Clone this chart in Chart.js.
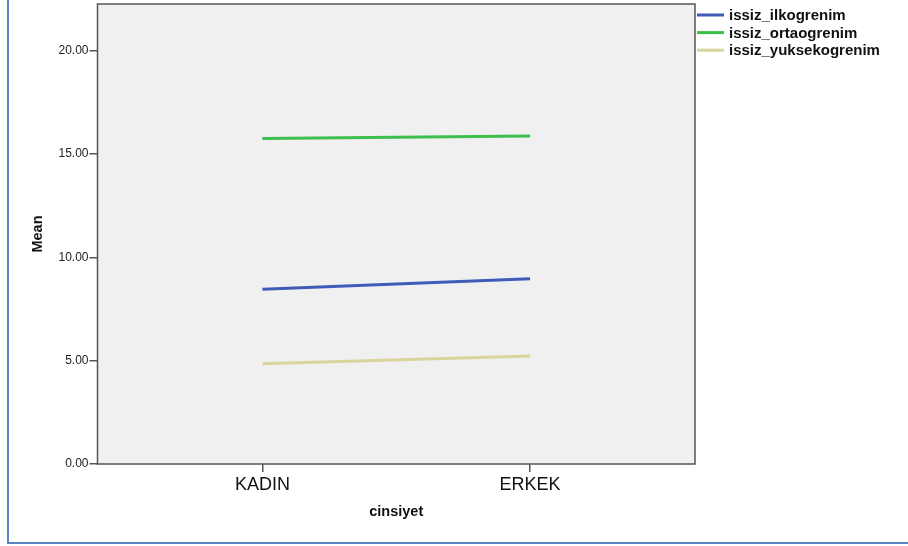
<!DOCTYPE html>
<html>
<head>
<meta charset="utf-8">
<script src="https://cdn.jsdelivr.net/npm/chart.js@4"></script>
<style>
html,body{margin:0;padding:0;background:#fff;}
#wrap{position:relative;width:908px;height:546px;}
canvas{display:block;}
</style>
</head>
<body>
<div id="wrap"><canvas id="c" width="908" height="546"></canvas></div>
<script>
const categories = ["KADIN", "ERKEK"];
const seriesNames = ["issiz_ilkogrenim", "issiz_ortaogrenim", "issiz_yuksekogrenim"];
const ilkogrenim = [8.45, 8.96];
const ortaogrenim = [15.74, 15.87];
const yuksekogrenim = [4.85, 5.22];
const yTicks = [0, 5, 10, 15, 20];
const seriesColors = ["#3f5bb8", "#3cbf4c", "#d8d49c"];

const seriesValues = [ilkogrenim, ortaogrenim, yuksekogrenim];
const datasets = seriesNames.map((name, i) => ({
  label: name,
  data: seriesValues[i].map((v, j) => ({x: j, y: v})),
  borderColor: seriesColors[i],
  backgroundColor: seriesColors[i],
  borderWidth: 3,
  pointRadius: 0,
  tension: 0,
  fill: false
}));

const decor = {
  id: 'decor',
  beforeDraw(chart) {
    const {ctx, chartArea: a} = chart;
    ctx.save();
    ctx.fillStyle = '#f0f0f0';
    ctx.fillRect(a.left, a.top, a.right - a.left, a.bottom - a.top);
    ctx.strokeStyle = '#5b86c6';
    ctx.lineWidth = 2;
    ctx.beginPath();
    ctx.moveTo(8, 0);
    ctx.lineTo(8, 543);
    ctx.lineTo(908, 543);
    ctx.stroke();
    ctx.restore();
  },
  afterDraw(chart) {
    const {ctx, chartArea: a} = chart;
    ctx.save();
    ctx.strokeStyle = '#555';
    ctx.lineWidth = 1.5;
    ctx.strokeRect(a.left, a.top, a.right - a.left, a.bottom - a.top);
    ctx.font = 'bold 15px "Liberation Sans", Arial, sans-serif';
    ctx.textBaseline = 'middle';
    ctx.fillStyle = '#111';
    chart.data.datasets.forEach((ds, i) => {
      const y = 15 + i * 17.6;
      ctx.strokeStyle = ds.borderColor;
      ctx.lineWidth = 3;
      ctx.beginPath();
      ctx.moveTo(697, y);
      ctx.lineTo(724, y);
      ctx.stroke();
      ctx.fillText(ds.label, 729, y + 1);
    });
    ctx.restore();
  }
};

new Chart(document.getElementById('c'), {
  type: 'line',
  data: {datasets},
  options: {
    responsive: false,
    animation: false,
    layout: {padding: {left: 0, top: 4, right: 213, bottom: 0}},
    plugins: {legend: {display: false}, tooltip: {enabled: false}},
    scales: {
      x: {
        type: 'linear',
        min: -0.616,
        max: 1.616,
        afterBuildTicks: s => { s.ticks = categories.map((c, i) => ({value: i})); },
        afterFit: s => { s.height = 82; s.paddingLeft = 0; s.paddingRight = 0; },
        ticks: {
          callback: v => categories[v],
          font: {family: '"Liberation Sans", Arial, sans-serif', size: 18},
          color: '#111',
          padding: 2,
          maxRotation: 0,
          autoSkip: false
        },
        grid: {drawOnChartArea: false, drawTicks: true, tickLength: 8, color: '#555', lineWidth: 1.5},
        border: {display: false},
        title: {
          display: true,
          text: 'cinsiyet',
          font: {family: '"Liberation Sans", Arial, sans-serif', size: 14.5, weight: 'bold'},
          color: '#111',
          padding: {top: 0, bottom: 25}
        }
      },
      y: {
        min: 0,
        max: 22.25,
        afterBuildTicks: s => { s.ticks = yTicks.map(v => ({value: v})); },
        afterFit: s => { s.width = 97.5; s.paddingTop = 0; s.paddingBottom = 0; },
        ticks: {
          callback: v => Number(v).toFixed(2),
          font: {family: '"Liberation Sans", Arial, sans-serif', size: 12},
          color: '#222',
          padding: 1
        },
        grid: {drawOnChartArea: false, drawTicks: true, tickLength: 8, color: '#555', lineWidth: 1.5},
        border: {display: false},
        title: {
          display: true,
          text: 'Mean',
          font: {family: '"Liberation Sans", Arial, sans-serif', size: 14.5, weight: 'bold'},
          color: '#111',
          padding: {top: 29, bottom: 0}
        }
      }
    }
  },
  plugins: [decor]
});
</script>
</body>
</html>
